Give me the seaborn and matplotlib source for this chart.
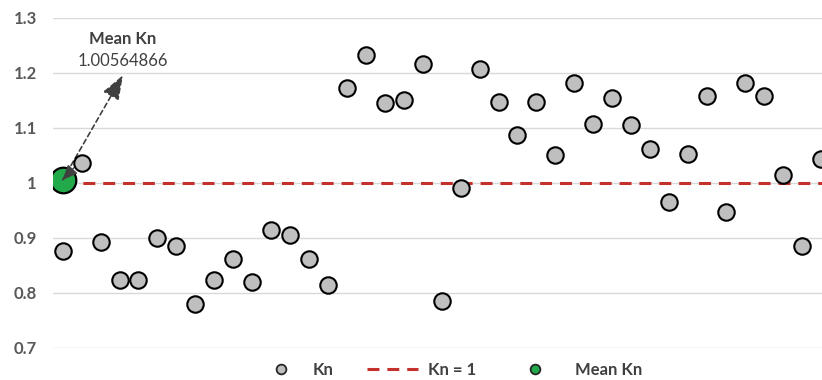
import numpy as np
import pandas as pd
import seaborn as sns
import matplotlib.pyplot as plt
from matplotlib.lines import Line2D

# ---- data ----
kn_values = [0.877, 1.037, 0.892, 0.824, 0.824, 0.900, 0.886, 0.780, 0.824, 0.862,
             0.820, 0.914, 0.906, 0.862, 0.814, 1.173, 1.233, 1.146, 1.151, 1.217,
             0.786, 0.991, 1.208, 1.148, 1.088, 1.148, 1.051, 1.182, 1.108, 1.154,
             1.105, 1.062, 0.965, 1.053, 1.159, 0.948, 1.182, 1.159, 1.014, 0.886, 1.043]
sample_idx = list(range(1, len(kn_values) + 1))
mean_kn = [1.00564866]
mean_idx = [1]
ref_value = 1.0
ytick_values = [0.7, 0.8, 0.9, 1.0, 1.1, 1.2, 1.3]
ytick_labels = ['0.7', '0.8', '0.9', '1', '1.1', '1.2', '1.3']
legend_labels = ['Kn', 'Kn = 1', 'Mean Kn']
annot_title = 'Mean Kn'
annot_value = '1.00564866'

df = pd.DataFrame({'idx': sample_idx, 'Kn': kn_values})
df_mean = pd.DataFrame({'idx': mean_idx, 'Kn': mean_kn})

sns.set_theme(style='white')
plt.rcParams['font.family'] = ['Lato', 'DejaVu Sans']

W, H = 822, 380
fig = plt.figure(figsize=(W / 100, H / 100), dpi=100)
left_px, top_px, bottom_px = 53.3, 18, 348
ax = fig.add_axes([left_px / W, (H - bottom_px) / H, 1 - left_px / W, (bottom_px - top_px) / H])

gray_fill = '#BFBFBF'
green_fill = '#22AA4A'
red = '#C4302B'
txt = '#404040'
FS = 12

# reference line
ax.hlines(ref_value, 1, 42, colors=red, linewidth=2.2, linestyles=(0, (3.9, 2.6)), zorder=2)

# mean point
sns.scatterplot(data=df_mean, x='idx', y='Kn', ax=ax, s=340, color=green_fill,
                edgecolor='black', linewidth=1.6, zorder=3, legend=False)

# arrow
ax.annotate('', xy=(4.18, 1.196), xytext=(mean_idx[0], mean_kn[0]),
            arrowprops=dict(arrowstyle='-|>,head_length=15,head_width=5.5', mutation_scale=1,
                            color='#404040', lw=1.2, linestyle=(0, (3, 2)),
                            shrinkA=0, shrinkB=0), zorder=4)
ax.annotate('', xy=(mean_idx[0], mean_kn[0]), xytext=(1.6, 1.028),
            arrowprops=dict(arrowstyle='-|>,head_length=9,head_width=4', mutation_scale=1,
                            color='#404040', lw=1.0, shrinkA=0, shrinkB=0), zorder=4)

# Kn points
sns.scatterplot(data=df, x='idx', y='Kn', ax=ax, s=140, color=gray_fill,
                edgecolor='black', linewidth=1.5, zorder=5, legend=False)

ax.text(4.18, 1.2615, annot_title, ha='center', va='center', fontsize=FS,
        fontweight='bold', color=txt)
ax.text(4.18, 1.2214, annot_value, ha='center', va='center', fontsize=FS, color=txt)

ax.set_xlim(0.504, 41.07)
ax.set_ylim(0.7, 1.3)
ax.set_yticks(ytick_values)
ax.set_yticklabels(ytick_labels)
ax.set_xticks([])
ax.set_xlabel('')
ax.set_ylabel('')
ax.yaxis.grid(True, color='#D9D9D9', linewidth=1)
ax.set_axisbelow(True)
for s in ax.spines.values():
    s.set_visible(False)
ax.tick_params(axis='y', length=0, pad=12, labelsize=FS, labelcolor='#595959')
for lab in ax.get_yticklabels():
    lab.set_fontweight('bold')

handles = [
    Line2D([], [], marker='o', linestyle='none', markersize=7, markerfacecolor=gray_fill,
           markeredgecolor='#262626', markeredgewidth=1.3),
    Line2D([], [], color=red, linewidth=2.2, linestyle=(0, (3.9, 2.6))),
    Line2D([], [], marker='o', linestyle='none', markersize=7, markerfacecolor=green_fill,
           markeredgecolor='#262626', markeredgewidth=1.3),
]
# separate legend entries for exact positions (left edge in px, handlelength, textpad)
entry_specs = [(266, 1.0, 1.4), (360, 3.06, 0.6), (520, 1.0, 1.9)]
leg_y = 1 - 370 / H
for h, lab, (lx, hl, tp) in zip(handles, legend_labels, entry_specs):
    leg = fig.legend([h], [lab], loc='center left', bbox_to_anchor=(lx / W, leg_y),
                     frameon=False, handlelength=hl, handletextpad=tp,
                     borderaxespad=0, prop={'weight': 'bold', 'size': FS})
    for t in leg.get_texts():
        t.set_color(txt)

fig.savefig('out.png', dpi=100)
